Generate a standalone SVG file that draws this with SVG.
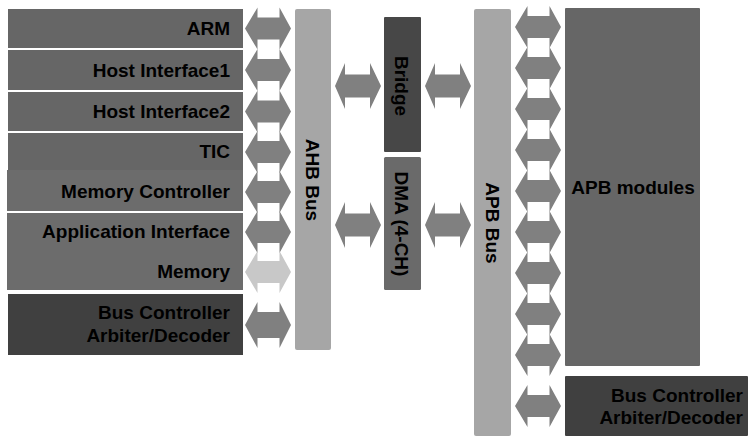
<svg xmlns="http://www.w3.org/2000/svg" xmlns:xlink="http://www.w3.org/1999/xlink" width="750" height="437" viewBox="0 0 750 437">
<style>
  .t { font-family: "Liberation Sans", Arial, sans-serif; font-weight: bold; font-size: 19px; fill: #000; }
  .r { text-anchor: end; }
  .m { text-anchor: middle; }
  .dk { fill: #666666; }
  .md { fill: #6c6c6c; }
  .bc { fill: #404040; }
  .bus { fill: #a6a6a6; }
  .arr { fill: #808080; }
  .arrl { fill: #c8c8c8; }
</style>
<defs>
  <path id="ha" d="M0,0 L12.5,-21 L12.5,-11 L34.5,-11 L34.5,-21 L46,0 L34.5,21 L34.5,11 L12.5,11 L12.5,21 Z"/>
  <path id="hb" d="M0,0 L10,-23 L10,-11.5 L35,-11.5 L35,-23 L46,0 L35,23 L35,11.5 L10,11.5 L10,23 Z"/>
  <path id="hc" d="M0,0 L12.5,-23 L12.5,-13 L34.5,-13 L34.5,-23 L46,0 L34.5,23 L34.5,13 L12.5,13 L12.5,23 Z"/>
</defs>
<rect width="750" height="437" fill="#ffffff"/>

<g id="connectors">
  <use xlink:href="#ha" href="#ha" class="arr" x="245" y="28.5"/>
  <use xlink:href="#ha" href="#ha" class="arr" x="245" y="70"/>
  <use xlink:href="#ha" href="#ha" class="arr" x="245" y="111.5"/>
  <use xlink:href="#ha" href="#ha" class="arr" x="245" y="152"/>
  <use xlink:href="#ha" href="#ha" class="arr" x="245" y="192"/>
  <use xlink:href="#ha" href="#ha" class="arr" x="245" y="232"/>
  <use xlink:href="#ha" href="#ha" class="arrl" x="245" y="272"/>
  <use xlink:href="#hc" href="#hc" class="arr" x="245" y="325"/>

  <use xlink:href="#hb" href="#hb" class="arr" x="335" y="86"/>
  <use xlink:href="#hb" href="#hb" class="arr" x="425" y="86"/>
  <use xlink:href="#hb" href="#hb" class="arr" x="335" y="225"/>
  <use xlink:href="#hb" href="#hb" class="arr" x="425" y="225"/>

  <use xlink:href="#ha" href="#ha" class="arr" x="515" y="27"/>
  <use xlink:href="#ha" href="#ha" class="arr" x="515" y="68"/>
  <use xlink:href="#ha" href="#ha" class="arr" x="515" y="109"/>
  <use xlink:href="#ha" href="#ha" class="arr" x="515" y="150"/>
  <use xlink:href="#ha" href="#ha" class="arr" x="515" y="191"/>
  <use xlink:href="#ha" href="#ha" class="arr" x="515" y="232"/>
  <use xlink:href="#ha" href="#ha" class="arr" x="515" y="273"/>
  <use xlink:href="#ha" href="#ha" class="arr" x="515" y="314"/>
  <use xlink:href="#ha" href="#ha" class="arr" x="515" y="355"/>
  <use xlink:href="#ha" href="#ha" class="arr" x="515" y="406"/>
</g>

<g id="arm"><rect class="dk" x="8" y="9" width="235" height="39"/><text class="t r" x="230" y="35">ARM</text></g>
<g id="host1"><rect class="dk" x="8" y="50" width="235" height="40"/><text class="t r" x="230" y="77">Host Interface1</text></g>
<g id="host2"><rect class="dk" x="8" y="92" width="235" height="39"/><text class="t r" x="230" y="118">Host Interface2</text></g>
<g id="tic"><rect class="dk" x="8" y="133" width="235" height="37"/><text class="t r" x="230" y="158">TIC</text></g>
<g id="memctrl"><rect class="md" x="7" y="170" width="236" height="41"/><text class="t r" x="230" y="198">Memory Controller</text></g>
<g id="appif"><rect class="md" x="7" y="213" width="236" height="38"/><text class="t r" x="230" y="238">Application Interface</text></g>
<g id="memory"><rect class="md" x="7" y="251" width="236" height="39"/><text class="t r" x="230" y="278">Memory</text></g>
<g id="ahbctrl"><rect class="bc" x="8" y="294" width="235" height="61"/><text class="t r" x="230" y="319">Bus Controller</text><text class="t r" x="230" y="342">Arbiter/Decoder</text></g>

<g id="ahb"><rect class="bus" x="295" y="9" width="36" height="341" rx="2"/><text class="t m" transform="translate(306,180) rotate(90)">AHB Bus</text></g>
<g id="bridge"><rect fill="#474747" x="384" y="17" width="37" height="135" rx="1"/><text class="t m" transform="translate(395,86) rotate(90)">Bridge</text></g>
<g id="dma"><rect fill="#6a6a6a" x="384" y="157" width="37" height="133" rx="1.5"/><text class="t m" transform="translate(395,224) rotate(90)">DMA (4-CH)</text></g>
<g id="apb"><rect class="bus" x="474" y="9" width="37" height="427" rx="2"/><text class="t m" transform="translate(486,223) rotate(90)">APB Bus</text></g>
<g id="apbmod"><rect class="dk" x="565" y="8" width="135" height="358" rx="1"/><text class="t m" x="633" y="194">APB modules</text></g>
<g id="apbctrl"><rect class="bc" x="565" y="376" width="183" height="60" rx="1"/><text class="t r" x="743" y="402">Bus Controller</text><text class="t r" x="743" y="424">Arbiter/Decoder</text></g>
</svg>
